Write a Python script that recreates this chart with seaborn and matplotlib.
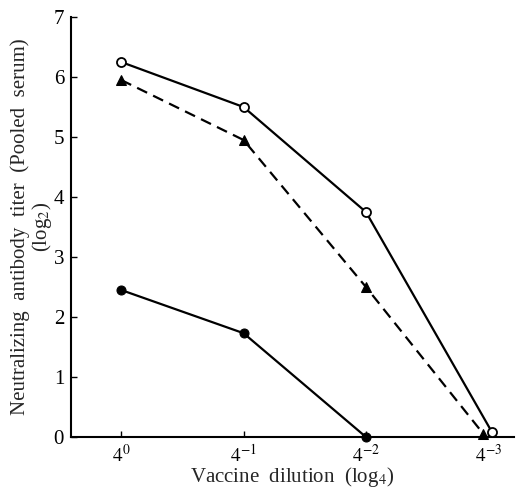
import matplotlib
matplotlib.use("Agg")
import matplotlib.pyplot as plt
import seaborn as sns
import pandas as pd

x_pos = [0, 1, 2, 3]
x_labels = ["$4^{0}$", "$4^{-1}$", "$4^{-2}$", "$4^{-3}$"]
open_circle = [6.25, 5.5, 3.75, 0.08]
open_x = [0, 1, 2, 3.03]
triangle = [5.95, 4.95, 2.5, 0.05]
tri_x = [0, 1, 2, 2.96]
filled_circle = [2.45, 1.73, 0.0]
filled_x = [0, 1, 2]

sns.set_theme(style="white")
plt.rcParams['font.family'] = ['Liberation Serif', 'DejaVu Serif']
plt.rcParams['mathtext.fontset'] = 'stix'

fig = plt.figure(figsize=(5.24, 4.92), dpi=100)
ax = fig.add_axes([0.1355, 0.1118, 0.8455, 0.8536])

df_o = pd.DataFrame({"x": open_x, "y": open_circle})
df_t = pd.DataFrame({"x": tri_x, "y": triangle})
df_f = pd.DataFrame({"x": filled_x, "y": filled_circle})

sns.lineplot(data=df_o, x="x", y="y", ax=ax, color="black", lw=1.6,
             marker="o", markersize=6.5, markerfacecolor="white",
             markeredgecolor="black", markeredgewidth=1.3, zorder=4, clip_on=False)
sns.lineplot(data=df_t, x="x", y="y", ax=ax, color="black", lw=1.6,
             linestyle=(0, (5, 3)), marker="^", markersize=7,
             markerfacecolor="black", markeredgecolor="black", zorder=4, clip_on=False)
sns.lineplot(data=df_f, x="x", y="y", ax=ax, color="black", lw=1.6,
             marker="o", markersize=6.5, markerfacecolor="black",
             markeredgecolor="black", zorder=4, clip_on=False)

ax.set_xlim(-0.41, 3.21)
ax.set_ylim(0, 7)
ax.set_xticks(x_pos)
ax.set_xticklabels(x_labels, fontsize=14)
ax.set_yticks(range(0, 8))
ax.set_yticklabels([str(i) for i in range(0, 8)], fontsize=15)
ax.tick_params(axis="both", direction="in", length=4, width=1, colors="black", pad=5,
               left=True, bottom=True)
for s in ["top", "right"]:
    ax.spines[s].set_visible(False)
for s in ["left", "bottom"]:
    ax.spines[s].set_color("black")
    ax.spines[s].set_linewidth(1.5)
    ax.spines[s].set_zorder(2)

ax.set_xlabel("Vaccine  dilution  (log$_4$)", fontsize=15, labelpad=-1)
ax.set_ylabel("Neutralizing  antibody  titer  (Pooled  serum)\n(log$_2$)",
              fontsize=15, labelpad=0, linespacing=0.95)

fig.savefig("out.png", dpi=100)
